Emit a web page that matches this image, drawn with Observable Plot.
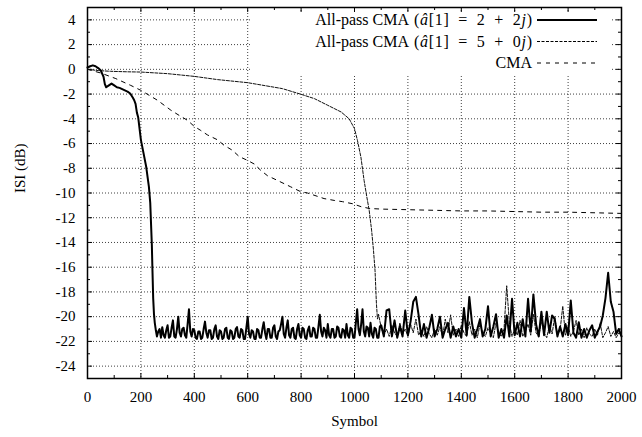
<!DOCTYPE html>
<html><head><meta charset="utf-8">
<script src="https://cdn.jsdelivr.net/npm/d3@7"></script>
<script src="https://cdn.jsdelivr.net/npm/@observablehq/plot@0.6"></script>
<style>
html,body{margin:0;padding:0;background:#fff;}
#wrap{position:relative;width:642px;height:437px;font-family:"Liberation Serif","Times New Roman","Liberation Sans",Arimo,sans-serif;}
#legend{position:absolute;left:252px;top:12px;width:358px;height:62px;background:#fff;}
#legend svg{position:absolute;left:0;top:0;overflow:visible;}
</style></head>
<body>
<div id="wrap"><div id="legend"></div></div>
<script>
// ---- Data ----
// All-pass CMA (â[1] = 2+2j): transient part
const ap22X = [0,10,20,30,40,50,60,65,70,80,90,100,110,120,130,140,150,160,170,175,180,185,190,200,210,220,230,235,238,241,243,246,249,252,256];
const ap22Y = [0.15,0.25,0.32,0.25,0.1,-0.1,-0.6,-1.2,-1.45,-1.3,-1.15,-1.3,-1.45,-1.5,-1.6,-1.7,-1.8,-1.95,-2.3,-2.5,-2.8,-3.5,-3.9,-5.7,-6.8,-7.9,-9.5,-10.8,-12.5,-14.2,-16,-18.5,-19.8,-20.5,-21.1];
// steady state, symbols 260..1095 every 5
const ap22DenseStart = 260;
const ap22Dense = [
-21.6,-21.2,-21.0,-21.7,-20.85,-21.5,-21.7,-21.1,-20.7,-21.7,-21.6,-20.9,-20.3,-21.6,-21.7,-21.0,-20.0,-21.3,-21.6,-21.0,
-20.9,-21.5,-21.7,-20.6,-19.4,-21.2,-21.6,-21.0,-21.1,-21.7,-21.8,-21.2,-21.2,-21.8,-21.7,-21.0,-20.4,-21.3,-21.7,-21.1,
-21.1,-21.8,-21.7,-21.0,-20.7,-21.6,-21.8,-21.1,-21.2,-21.8,-21.7,-21.0,-20.9,-21.7,-21.8,-21.1,-21.2,-21.8,-21.7,-21.0,
-20.85,-21.6,-21.7,-21.0,-21.1,-21.8,-21.8,-20.9,-20.0,-21.4,-21.7,-21.1,-21.2,-21.8,-21.8,-21.0,-21.1,-21.7,-21.7,-21.0,
-20.45,-21.3,-21.8,-21.0,-21.0,-21.7,-21.7,-20.9,-20.7,-21.6,-21.8,-21.2,-21.1,-20.6,-20.0,-21.4,-21.7,-20.9,-20.3,-21.5,
-21.7,-21.0,-20.9,-21.7,-21.8,-21.0,-20.6,-21.5,-21.7,-20.9,-21.0,-21.7,-21.8,-21.1,-20.8,-21.6,-21.6,-20.9,-21.0,-21.7,
-21.7,-20.8,-19.85,-21.2,-21.6,-20.9,-21.1,-21.7,-20.6,-21.5,-21.7,-21.0,-21.0,-21.7,-21.6,-20.8,-20.9,-21.6,-21.7,-21.0,
-21.1,-21.7,-20.6,-21.5,-21.7,-20.9,-21.0,-21.7,-21.7,-20.5,-19.4,-21.0,-21.5,-20.6,-19.4,-21.2,-21.6,-20.8,-20.9,-21.6,
-20.5,-21.4,-21.7,-20.9,-21.0,-21.7,-21.7,-20.8];
// steady state, symbols 1100..2000 every 10
const ap22SparseStart = 1100;
const ap22Sparse = [
-20.7,-21.6,-19.5,-19.4,-21.6,-20.3,
-21.7,-20.8,-21.6,-19.5,-21.5,-20.4,-18.8,-18.4,-19.85,-21.6,
-20.6,-21.7,-20.9,-19.85,-21.6,-21.0,-20.0,-21.7,-21.0,-20.5,
-21.7,-20.8,-21.6,-21.0,-21.7,-19.3,-21.5,-18.4,-20.5,-21.7,
-21.0,-20.2,-21.6,-21.0,-19.15,-21.6,-20.8,-19.8,-21.7,-21.0,
-21.7,-19.9,-21.6,-18.55,-21.5,-20.5,-21.6,-20.2,-21.6,-18.55,
-21.2,-18.2,-20.6,-21.6,-19.6,-21.5,-19.6,-21.3,-19.9,-20.2,
-21.6,-20.8,-21.6,-20.6,-21.5,-18.7,-21.3,-21.7,-20.45,-21.7,
-21.0,-21.7,-21.1,-20.7,-21.7,-21.2,-20.8,-19.9,-18.5,-16.45,
-18.8,-19.6,-21.4,-21.0,-21.6];

// All-pass CMA (â[1] = 5+0j)
const ap50X = [0,40,87,150,200,300,400,487,600,730,800,850,900,950,980,1000,1011,1024,1036,1046,1055,1064,1071,1077,1082,1086];
const ap50Y = [0,-0.1,-0.16,-0.2,-0.22,-0.35,-0.57,-0.83,-1.08,-1.56,-2.02,-2.37,-2.91,-3.45,-4.0,-4.8,-5.74,-7.1,-9.0,-10.3,-11.4,-13.0,-14.6,-16.3,-18.9,-20.2];
const ap50NoiseStart = 1090;
const ap50Noise = [
-19.8,-20.9,-21.5,-21.0,-21.6,-20.7,-21.3,-21.6,-20.5,-21.4,
-21.0,-21.6,-20.6,-21.3,-20.2,-21.5,-21.1,-21.6,-20.8,-21.4,
-21.7,-21.0,-21.5,-20.8,-21.6,-20.2,-21.3,-19.85,-21.5,-21.0,
-21.6,-20.7,-21.3,-21.6,-20.4,-21.5,-21.0,-21.7,-20.6,-21.3,
-21.6,-20.9,-21.4,-21.7,-20.5,-21.3,-21.6,-21.0,-17.5,-20.5,
-21.6,-21.0,-21.5,-20.3,-21.6,-21.2,-20.6,-21.5,-19.8,-21.3,
-21.6,-20.4,-21.3,-21.7,-20.7,-21.4,-20.0,-21.5,-21.1,-19.15,
-21.5,-20.8,-21.6,-21.2,-20.3,-21.5,-21.0,-21.7,-20.9,-21.4,
-21.6,-21.0,-21.5,-20.5,-21.7,-21.3,-20.8,-21.6,-21.2,-21.7,
-21.3,-21.6];

// CMA
const cmaX = [0,50,106,162,200,231,262,287,312,343,375,399,424,449,487,512,543,568,599,624,649,674,711,761,799,824,886,924,955,993,1024,1055,1100,1200,1300,1400,1500,1600,1700,1800,1900,2000];
const cmaY = [0,-0.3,-0.75,-1.3,-1.7,-2.1,-2.5,-2.9,-3.3,-3.72,-4.13,-4.6,-4.94,-5.3,-5.7,-6.15,-6.55,-7.05,-7.36,-7.65,-8.17,-8.6,-8.98,-9.5,-9.9,-10.0,-10.45,-10.6,-10.7,-10.87,-11.1,-11.25,-11.3,-11.35,-11.4,-11.45,-11.45,-11.5,-11.55,-11.55,-11.6,-11.65];

const xTicks = [0,200,400,600,800,1000,1200,1400,1600,1800,2000];
const yTicks = [-24,-22,-20,-18,-16,-14,-12,-10,-8,-6,-4,-2,0,2,4];
const xMinorTicks = [100,300,500,700,900,1100,1300,1500,1700,1900];
const yMinorTicks = [-23,-21,-19,-17,-15,-13,-11,-9,-7,-5,-3,-1,1,3];

// ---- Build tables ----
const ap22 = ap22X.map((x,i)=>({x, y: ap22Y[i]}))
  .concat(ap22Dense.map((y,i)=>({x: ap22DenseStart + 5*i, y})))
  .concat(ap22Sparse.map((y,i)=>({x: ap22SparseStart + 10*i, y})));
const ap50 = ap50X.map((x,i)=>({x, y: ap50Y[i]}))
  .concat(ap50Noise.map((y,i)=>({x: ap50NoiseStart + 10*i, y})));
const cma = cmaX.map((x,i)=>({x, y: cmaY[i]}));

const FONT = '"Liberation Serif","Times New Roman","Liberation Sans",Arimo,sans-serif';
const FS = 15;
const W = 642, H = 437, mL = 87, mR = 21, mT = 7, mB = 59;
const iW = W - mL - mR, iH = H - mT - mB;
const gridStyle = {stroke:"#000", strokeOpacity:0.75, strokeWidth:1, strokeDasharray:"1,2"};

const chart = Plot.plot({
  width: W, height: H,
  marginLeft: mL, marginRight: mR, marginTop: mT, marginBottom: mB,
  style: {fontFamily: FONT, fontSize: FS + "px", color: "#000", background: "#fff"},
  x: {domain: [0, 2000], axis: null},
  y: {domain: [-25, 5], axis: null},
  marks: [
    Plot.ruleX(xTicks.filter(d => d > 0 && d < 2000), gridStyle),
    Plot.ruleY(yTicks, gridStyle),
    // inward ticks on all four sides
    Plot.ruleX(xTicks, {stroke:"#000", insetTop: iH - 5}),
    Plot.ruleX(xTicks, {stroke:"#000", insetBottom: iH - 5}),
    Plot.ruleX(xMinorTicks, {stroke:"#000", insetTop: iH - 3}),
    Plot.ruleX(xMinorTicks, {stroke:"#000", insetBottom: iH - 3}),
    Plot.ruleY(yTicks, {stroke:"#000", insetRight: iW - 5}),
    Plot.ruleY(yTicks, {stroke:"#000", insetLeft: iW - 5}),
    Plot.ruleY(yMinorTicks, {stroke:"#000", insetRight: iW - 3}),
    Plot.ruleY(yMinorTicks, {stroke:"#000", insetLeft: iW - 3}),
    // series
    Plot.line(cma, {x:"x", y:"y", stroke:"#000", strokeWidth:1, strokeDasharray:"4,5"}),
    Plot.line(ap50, {x:"x", y:"y", stroke:"#111", strokeWidth:1, strokeDasharray:"3,1.5"}),
    Plot.line(ap22, {x:"x", y:"y", stroke:"#000", strokeWidth:2, strokeLinejoin:"round"}),
    Plot.frame({stroke:"#000", strokeWidth:1.5}),
    // tick labels
    Plot.axisX(xTicks, {anchor:"bottom", tickSize:0, tickPadding:13, label:null, fontSize:FS,
      tickFormat: d => String(d)}),
    Plot.axisY(yTicks, {anchor:"left", tickSize:0, tickPadding:12, label:null, fontSize:FS,
      tickFormat: d => String(d)}),
    // axis titles
    Plot.text(["Symbol"], {text: d => d, frameAnchor:"bottom", dy: 47, fontSize:FS}),
    Plot.text(["ISI (dB)"], {text: d => d, frameAnchor:"left", dx: -67, rotate: -90, fontSize:FS})
  ]
});
document.getElementById("wrap").prepend(chart);
chart.style.display = "block";

// ---- Legend (opaque key box, as in the reference) ----
const legendRows = [
  {label:"All-pass CMA", math:["(", "â", "[1]\u2002=\u20022\u2002+\u20022", "j", ")"], dash:null, width:2},
  {label:"All-pass CMA", math:["(", "â", "[1]\u2002=\u20025\u2002+\u20020", "j", ")"], dash:"3,1.5", width:1},
  {label:"CMA", math:null, dash:"4,5", width:1}
];
const LFS = 16;
const lg = d3.select("#legend").append("svg").attr("width", 358).attr("height", 62)
  .style("font-family", FONT).style("font-size", LFS + "px");
const textRight = 280, mathLen = 118;
legendRows.forEach((r, i) => {
  const cy = 8 + i * 21.5;
  if (r.math) {
    const m = lg.append("text").attr("x", textRight).attr("y", cy).attr("dy", "0.34em")
      .attr("text-anchor", "end").attr("textLength", mathLen).attr("lengthAdjust", "spacing");
    r.math.forEach((s, k) => {
      const ts = m.append("tspan").text(s);
      if (k === 1 || k === 3) ts.attr("font-style", "italic");
    });
    lg.append("text").attr("x", textRight - mathLen - 5).attr("y", cy).attr("dy", "0.34em")
      .attr("text-anchor", "end").text(r.label);
  } else {
    lg.append("text").attr("x", textRight).attr("y", cy).attr("dy", "0.34em")
      .attr("text-anchor", "end").text(r.label);
  }
  const ln = lg.append("line").attr("x1", 285).attr("x2", 345).attr("y1", cy).attr("y2", cy)
    .attr("stroke", "#000").attr("stroke-width", r.width);
  if (r.dash) ln.attr("stroke-dasharray", r.dash);
});
</script>
</body></html>
